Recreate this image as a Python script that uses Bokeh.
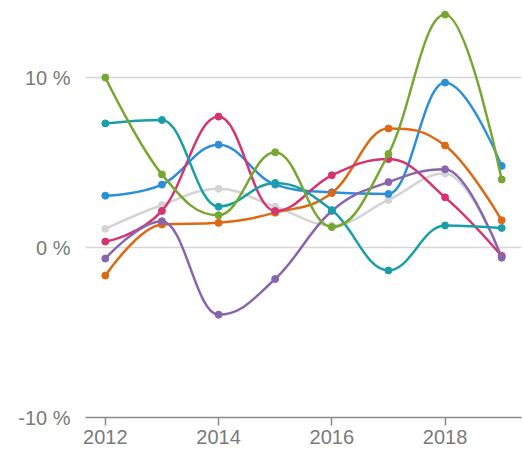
from bokeh.plotting import figure
from bokeh.models import ColumnDataSource, FixedTicker, CustomJSTickFormatter, Range1d
from bokeh.embed import file_html
from bokeh.resources import INLINE

years = [2012, 2013, 2014, 2015, 2016, 2017, 2018, 2019]

gray   = [1.1, 2.5, 3.45, 2.4, 1.3, 2.8, 4.35, -0.5]
blue   = [3.05, 3.7, 6.05, 3.7, 3.25, 3.15, 9.7, 4.8]
orange = [-1.65, 1.35, 1.45, 2.05, 3.2, 7.0, 6.0, 1.6]
pink   = [0.35, 2.15, 7.7, 2.15, 4.25, 5.2, 2.95, -0.5]
purple = [-0.65, 1.55, -3.95, -1.85, 2.15, 3.85, 4.6, -0.6]
teal   = [7.3, 7.5, 2.4, 3.8, 2.2, -1.35, 1.3, 1.15]
green  = [10.0, 4.3, 1.9, 5.6, 1.2, 5.5, 13.7, 4.0]

series = [
    (gray, "#d4d4d4"),
    (blue, "#2b8fd9"),
    (orange, "#dc6a15"),
    (pink, "#d63471"),
    (purple, "#8865ad"),
    (teal, "#1a9fa9"),
    (green, "#76a831"),
]

y_ticks = [-10, 0, 10]
x_ticks = [2012, 2014, 2016, 2018]

p = figure(frame_width=436, frame_height=409, output_backend="svg",
           toolbar_location=None, x_range=Range1d(2011.65, 2019.35),
           y_range=Range1d(-10, 14.06), min_border_left=85, min_border_right=2,
           min_border_top=8, min_border_bottom=0)
p.outline_line_color = None
p.background_fill_color = "white"
p.border_fill_color = "white"
p.xgrid.grid_line_color = None
p.ygrid.grid_line_color = "#d6d6d6"
p.ygrid.grid_line_width = 1.5
p.ygrid.ticker = FixedTicker(ticks=y_ticks)

p.yaxis.ticker = FixedTicker(ticks=y_ticks)
p.yaxis.axis_line_color = None
p.yaxis.major_tick_line_color = None
p.yaxis.minor_tick_line_color = None
p.yaxis.major_tick_out = 0
p.yaxis.major_tick_in = 0
p.yaxis.major_label_standoff = 15
p.yaxis.formatter = CustomJSTickFormatter(code="return tick + ' %';")

p.xaxis.ticker = FixedTicker(ticks=x_ticks)
p.xaxis.axis_line_color = "#8a8a8a"
p.xaxis.axis_line_width = 1.5
p.xaxis.major_tick_line_color = "#8a8a8a"
p.xaxis.major_tick_line_width = 1.5
p.xaxis.major_tick_out = 8
p.xaxis.major_tick_in = 0
p.xaxis.minor_tick_line_color = None
p.xaxis.major_label_standoff = 4

for ax in (p.xaxis, p.yaxis):
    ax.major_label_text_font = "Liberation Sans"
    ax.major_label_text_font_size = "20px"
    ax.major_label_text_color = "#7a7a7a"


def spline_source(xs, ys, smoothing=1.5):
    """Bezier control points for a spline through the data points
    (control handles along the neighbour chord, clamped to avoid overshoot)."""
    n = len(xs)
    denom = smoothing + 1
    lc = [None] * n
    rc = [None] * n
    for i in range(1, n - 1):
        px, py = xs[i], ys[i]
        lx, ly = xs[i - 1], ys[i - 1]
        nx, ny = xs[i + 1], ys[i + 1]
        lcx = (smoothing * px + lx) / denom
        lcy = (smoothing * py + ly) / denom
        rcx = (smoothing * px + nx) / denom
        rcy = (smoothing * py + ny) / denom
        corr = ((rcy - lcy) * (rcx - px)) / (rcx - lcx) + py - rcy
        lcy += corr
        rcy += corr
        if lcy > ly and lcy > py:
            lcy = max(ly, py); rcy = 2 * py - lcy
        elif lcy < ly and lcy < py:
            lcy = min(ly, py); rcy = 2 * py - lcy
        if rcy > ny and rcy > py:
            rcy = max(ny, py); lcy = 2 * py - rcy
        elif rcy < ny and rcy < py:
            rcy = min(ny, py); lcy = 2 * py - rcy
        lc[i] = (lcx, lcy)
        rc[i] = (rcx, rcy)
    lc[n - 1] = (xs[n - 1], ys[n - 1])
    rc[0] = (xs[0], ys[0])
    d = dict(x0=[], y0=[], x1=[], y1=[], cx0=[], cy0=[], cx1=[], cy1=[])
    for i in range(n - 1):
        d["x0"].append(xs[i]); d["y0"].append(ys[i])
        d["x1"].append(xs[i + 1]); d["y1"].append(ys[i + 1])
        d["cx0"].append(rc[i][0]); d["cy0"].append(rc[i][1])
        d["cx1"].append(lc[i + 1][0]); d["cy1"].append(lc[i + 1][1])
    return ColumnDataSource(d)


for vals, col in series:
    src = spline_source(years, vals)
    p.bezier(x0="x0", y0="y0", x1="x1", y1="y1", cx0="cx0", cy0="cy0",
             cx1="cx1", cy1="cy1", source=src, line_color=col, line_width=2.5)
    p.scatter(years, vals, size=7, fill_color=col, line_color=col)

open("out.html", "w").write(file_html(p, INLINE))
